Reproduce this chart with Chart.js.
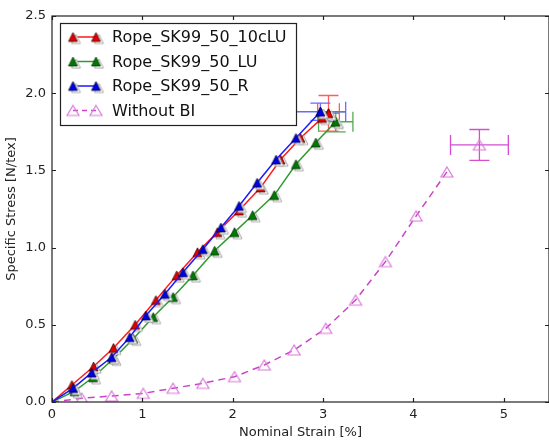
<!DOCTYPE html>
<html>
<head>
<meta charset="utf-8">
<script src="https://cdn.jsdelivr.net/npm/chart.js@4.4.1/dist/chart.umd.min.js"></script>
<style>
  html, body { margin: 0; padding: 0; background: #fff; }
  canvas { display: block; }
</style>
</head>
<body>
<canvas id="chart" width="549" height="441"></canvas>
<script>
// legend names
const seriesNames = ['Rope_SK99_50_10cLU', 'Rope_SK99_50_LU', 'Rope_SK99_50_R', 'Without BI'];

// nominal strain [%] and specific stress [N/tex] per test
const strain10cLU = [0, 0.22, 0.46, 0.68, 0.92, 1.15, 1.38, 1.61, 1.83, 2.07, 2.31, 2.53, 2.75, 2.99];
const stress10cLU = [0, 0.11, 0.23, 0.35, 0.50, 0.66, 0.82, 0.97, 1.10, 1.24, 1.39, 1.57, 1.71, 1.84];
const strainLU = [0, 0.25, 0.455, 0.68, 0.90, 1.12, 1.34, 1.56, 1.80, 2.02, 2.22, 2.46, 2.70, 2.92];
const stressLU = [0, 0.07, 0.16, 0.28, 0.41, 0.55, 0.68, 0.82, 0.98, 1.10, 1.21, 1.34, 1.54, 1.68];
const strainR = [0, 0.235, 0.44, 0.66, 0.86, 1.04, 1.25, 1.45, 1.67, 1.87, 2.07, 2.27, 2.48, 2.70];
const stressR = [0, 0.09, 0.19, 0.29, 0.42, 0.56, 0.70, 0.84, 0.99, 1.13, 1.27, 1.42, 1.57, 1.71];
const strainNoBI = [0, 0.33, 0.66, 1.01, 1.34, 1.67, 2.02, 2.35, 2.68, 3.03, 3.36, 3.69, 4.03, 4.37];
const stressNoBI = [0, 0.024, 0.039, 0.056, 0.089, 0.121, 0.164, 0.24, 0.337, 0.477, 0.66, 0.909, 1.205, 1.49];

// breaking point (mean) with error bars, same order as seriesNames
const meanStrain = [3.06, 3.14, 2.97, 4.73];
const meanStress = [1.87, 1.815, 1.88, 1.665];
const strainErr = [0.12, 0.19, 0.28, 0.32];
const stressErr = [0.115, 0.065, 0.056, 0.10];
const connectMean = [true, true, true, false];

// axis ticks
const xTicks = [0, 1, 2, 3, 4, 5];
const yTicks = [0, 0.5, 1.0, 1.5, 2.0, 2.5];

const lineColors = ['#ff1a1a', '#2e9a2e', '#1a1aff', '#c845c8'];
const fillColors = ['#e00000', '#007a00', '#0000e6', null];
const edgeColors = ['#300', '#020', '#002', '#dc7adc'];
const errColors = ['#ff5c5c', '#55aa55', '#6a6aff', '#d24fd2'];

Chart.defaults.font.family = 'DejaVu Sans';

function triangle(ctx, cx, cy, w, h) {
  ctx.beginPath();
  ctx.moveTo(cx, cy - h / 2);
  ctx.lineTo(cx + w / 2, cy + h / 2);
  ctx.lineTo(cx - w / 2, cy + h / 2);
  ctx.closePath();
}

// triangle marker, filled ones get the grey ghost outline seen in the picture
function makeMarker(fill, edge, w, h) {
  const c = document.createElement('canvas');
  c.width = w + 12;
  c.height = h + 10;
  const ctx = c.getContext('2d');
  const cx = c.width / 2, cy = c.height / 2;
  if (fill) {
    triangle(ctx, cx + 3, cy + 2, w, h);
    ctx.fillStyle = '#fff';
    ctx.fill();
    ctx.strokeStyle = '#a8a8a8';
    ctx.lineWidth = 1;
    ctx.stroke();
    triangle(ctx, cx, cy, w, h);
    ctx.fillStyle = fill;
    ctx.fill();
    ctx.strokeStyle = edge;
    ctx.lineWidth = 0.7;
    ctx.stroke();
  } else {
    triangle(ctx, cx, cy, w, h);
    ctx.strokeStyle = edge;
    ctx.lineWidth = 1.2;
    ctx.stroke();
  }
  return c;
}

const markers = fillColors.map((f, i) => f ? makeMarker(f, edgeColors[i], 9, 9) : makeMarker(null, edgeColors[i], 12, 10));

const strains = [strain10cLU, strainLU, strainR, strainNoBI];
const stresses = [stress10cLU, stressLU, stressR, stressNoBI];
const drawOrder = [2, 3, 1, 4];

const datasets = [];
strains.forEach((xs, i) => {
  const pts = xs.map((v, k) => ({ x: v, y: stresses[i][k] }));
  if (connectMean[i]) pts.push({ x: meanStrain[i], y: meanStress[i] });
  datasets.push({
    label: seriesNames[i],
    data: pts,
    showLine: true,
    borderColor: lineColors[i],
    borderWidth: 1.5,
    borderDash: i === 3 ? [7, 5] : [],
    pointStyle: markers[i],
    pointRadius: ctx => ctx.dataIndex === 0 ? 0 : 5,
    order: drawOrder[i]
  });
});
// breaking points
meanStrain.forEach((v, i) => {
  datasets.push({
    label: seriesNames[i] + ' mean',
    data: [{ x: v, y: meanStress[i] }],
    showLine: false,
    pointStyle: markers[i],
    pointRadius: 5,
    order: drawOrder[i]
  });
});

const errorBarPlugin = {
  id: 'errorBars',
  beforeDatasetsDraw(chart) {
    const { ctx, scales: { x, y } } = chart;
    const cap = 10;
    meanStrain.forEach((mx, i) => {
      const my = meanStress[i];
      const px = x.getPixelForValue(mx), py = y.getPixelForValue(my);
      const x0 = x.getPixelForValue(mx - strainErr[i]), x1 = x.getPixelForValue(mx + strainErr[i]);
      const y0 = y.getPixelForValue(my - stressErr[i]), y1 = y.getPixelForValue(my + stressErr[i]);
      ctx.save();
      ctx.strokeStyle = errColors[i];
      ctx.lineWidth = 1.3;
      ctx.beginPath();
      ctx.moveTo(x0, py); ctx.lineTo(x1, py);
      ctx.moveTo(px, y0); ctx.lineTo(px, y1);
      ctx.moveTo(x0, py - cap); ctx.lineTo(x0, py + cap);
      ctx.moveTo(x1, py - cap); ctx.lineTo(x1, py + cap);
      ctx.moveTo(px - cap, y0); ctx.lineTo(px + cap, y0);
      ctx.moveTo(px - cap, y1); ctx.lineTo(px + cap, y1);
      ctx.stroke();
      ctx.restore();
    });
  }
};

// box round the plot with inward ticks on all four sides
const framePlugin = {
  id: 'frame',
  afterDatasetsDraw(chart) {
    const { ctx, chartArea: a, scales: { x, y } } = chart;
    const t = 4;
    ctx.save();
    ctx.strokeStyle = '#222';
    ctx.lineWidth = 1.2;
    ctx.strokeRect(a.left, a.top, a.right - a.left, a.bottom - a.top);
    ctx.beginPath();
    xTicks.forEach(v => {
      const px = Math.round(x.getPixelForValue(v)) + 0.5;
      ctx.moveTo(px, a.bottom); ctx.lineTo(px, a.bottom - t);
      ctx.moveTo(px, a.top); ctx.lineTo(px, a.top + t);
    });
    yTicks.forEach(v => {
      const py = Math.round(y.getPixelForValue(v)) + 0.5;
      ctx.moveTo(a.left, py); ctx.lineTo(a.left + t, py);
      ctx.moveTo(a.right, py); ctx.lineTo(a.right - t, py);
    });
    ctx.stroke();
    ctx.restore();
  }
};

const legendPlugin = {
  id: 'boxLegend',
  afterDraw(chart) {
    const { ctx } = chart;
    const bx = 60, by = 23, bw = 236, bh = 102;
    ctx.save();
    ctx.fillStyle = '#fff';
    ctx.fillRect(bx, by, bw, bh);
    ctx.strokeStyle = '#222';
    ctx.lineWidth = 1.2;
    ctx.strokeRect(bx + 0.5, by + 0.5, bw, bh);
    ctx.font = '16px "DejaVu Sans"';
    ctx.textBaseline = 'middle';
    ctx.fillStyle = '#111';
    seriesNames.forEach((name, i) => {
      const ly = 37 + i * 24.5;
      ctx.strokeStyle = lineColors[i];
      ctx.lineWidth = 1.5;
      ctx.setLineDash(i === 3 ? [5, 4] : []);
      ctx.beginPath();
      ctx.moveTo(73, ly);
      ctx.lineTo(96, ly);
      ctx.stroke();
      ctx.setLineDash([]);
      [73, 96].forEach(mx => {
        const m = markers[i];
        ctx.drawImage(m, mx - m.width / 2, ly - m.height / 2);
      });
      ctx.fillText(name, 112, ly + 1);
    });
    ctx.restore();
  }
};

new Chart(document.getElementById('chart'), {
  type: 'scatter',
  data: { datasets },
  options: {
    responsive: false,
    animation: false,
    devicePixelRatio: 1,
    layout: { autoPadding: false, padding: { top: 16, right: 0, left: 0, bottom: 0 } },
    plugins: { legend: { display: false }, tooltip: { enabled: false } },
    scales: {
      x: {
        type: 'linear',
        min: 0,
        max: 5.5,
        afterBuildTicks: s => { s.ticks = xTicks.map(v => ({ value: v })); },
        afterFit: s => { s.height = 39; s.paddingLeft = 0; s.paddingRight = 0; },
        grid: { display: false, drawTicks: false },
        border: { display: false },
        ticks: { color: '#222', font: { size: 13 }, padding: 5, callback: v => String(v) },
        title: { display: true, text: 'Nominal Strain [%]', color: '#222', font: { size: 13 }, padding: { top: 0, bottom: 1 } }
      },
      y: {
        min: 0,
        max: 2.5,
        afterBuildTicks: s => { s.ticks = yTicks.map(v => ({ value: v })); },
        afterFit: s => { s.width = 52; },
        grid: { display: false, drawTicks: false },
        border: { display: false },
        ticks: { color: '#222', font: { size: 13 }, padding: 6, callback: v => v.toFixed(1) },
        title: { display: true, text: 'Specific Stress [N/tex]', color: '#222', font: { size: 13 }, padding: { top: 4, bottom: 0 } }
      }
    }
  },
  plugins: [errorBarPlugin, framePlugin, legendPlugin]
});
</script>
</body>
</html>
